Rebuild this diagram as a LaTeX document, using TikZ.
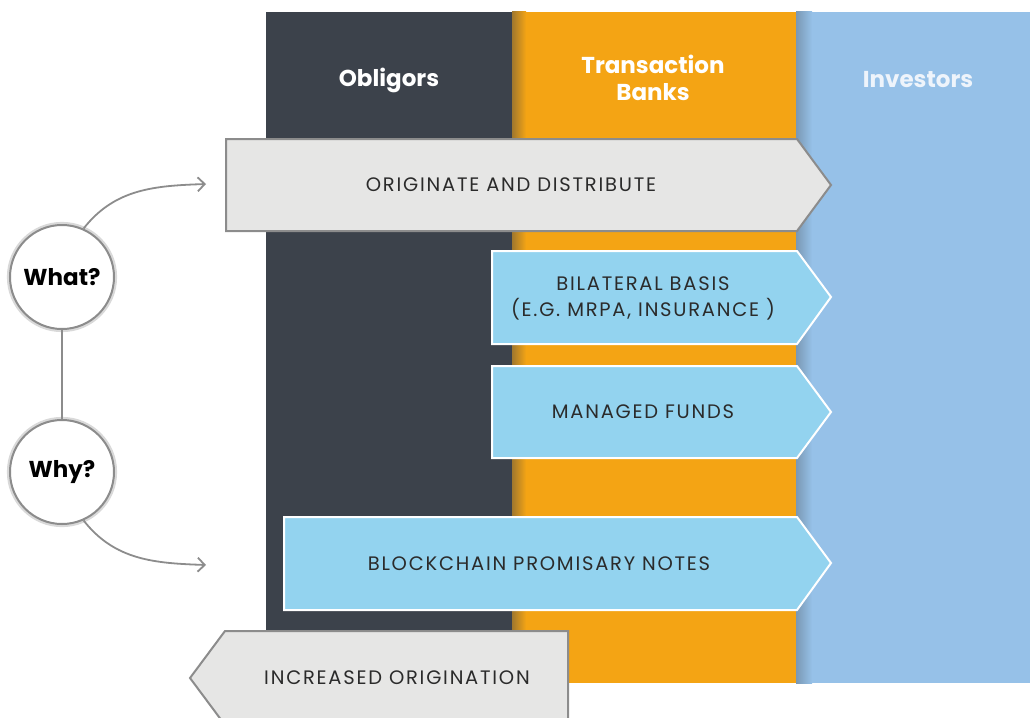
\documentclass[tikz,border=0pt]{standalone}
\usepackage{fontspec}
\setmainfont{Poppins}
\newfontfamily\labfont[LetterSpace=9]{Poppins}
\usetikzlibrary{arrows.meta,shadows}
\definecolor{obl}{HTML}{3C424B}
\definecolor{ora}{HTML}{F4A414}
\definecolor{orashadow}{HTML}{A0782E}
\definecolor{inv}{HTML}{96C1E8}
\definecolor{invshadow}{HTML}{7A98B4}
\definecolor{invtext}{HTML}{EEF4FB}
\definecolor{boxgray}{HTML}{E6E6E5}
\definecolor{edgegray}{HTML}{8C8C8C}
\definecolor{boxblue}{HTML}{93D3EF}
\definecolor{labtext}{HTML}{2B2B2B}
\begin{document}
\begin{tikzpicture}[x=1pt,y=-1pt,
  head/.style={text=white,font=\fontsize{23}{27}\selectfont\bfseries,align=center},
  graybox/.style={fill=boxgray,draw=edgegray,line width=2pt},
  bluebox/.style={fill=boxblue,draw=white,line width=2pt},
  lab/.style={text=labtext,font=\labfont\fontsize{19.5}{26}\selectfont,align=center},
  circ/.style={circle,draw=edgegray,line width=2pt,fill=white,minimum size=104pt,inner sep=0pt,
    font=\fontsize{23}{26}\selectfont\bfseries,text=black,
    drop shadow={opacity=0.3,shadow xshift=0pt,shadow yshift=0pt,shadow scale=1.06}},
  conn/.style={draw=edgegray,line width=1.8pt},
  tip/.style={-{Straight Barb[length=7pt,width=14pt,line width=1.8pt]}}]
\useasboundingbox (0,0) rectangle (1030,717);
\clip (0,0) rectangle (1030,717);
% columns
\fill[obl] (266,12) rectangle (512,632);
\fill[ora] (512,12) rectangle (796,683);
\shade[left color=orashadow,right color=ora] (512,12) rectangle (526,683);
\fill[inv] (796,12) rectangle (1030,683);
\shade[left color=invshadow,right color=inv] (796,12) rectangle (812,683);
% headers
\node[head] (hobl) at (389,80) {Obligors};
\node[head] (hban) at (653,78) {Transaction\\Banks};
\node[head,text=invtext] (hinv) at (918,80) {Investors};
% arrow boxes
\draw[graybox] (226,139) -- (797,139) -- (831,185) -- (797,231) -- (226,231) -- cycle;
\node[lab] (orig) at (511,185) {ORIGINATE AND DISTRIBUTE};
\draw[bluebox] (492,251) -- (797,251) -- (831,297) -- (797,344) -- (492,344) -- cycle;
\node[lab] (bil) at (643,298) {BILATERAL BASIS\\(E.G. MRPA, INSURANCE )};
\draw[bluebox] (492,366) -- (797,366) -- (831,412) -- (797,458) -- (492,458) -- cycle;
\node[lab] (man) at (643,412) {MANAGED FUNDS};
\draw[bluebox] (284,517) -- (797,517) -- (831,563) -- (797,610) -- (284,610) -- cycle;
\node[lab] (blk) at (539,564) {BLOCKCHAIN PROMISARY NOTES};
\draw[graybox] (568,631) -- (225,631) -- (190,678) -- (225,725) -- (568,725) -- cycle;
\node[lab] (inc) at (397,678) {INCREASED ORIGINATION};
% circles
\node[circ] (what) at (62,277) {What?};
\node[circ] (why) at (62,472) {Why?};
\draw[conn] (what) -- (why);
\coordinate (e1) at (206,184);
\coordinate (e2) at (206,565);
\draw[conn,tip] (what.66) to[out=52,in=182] (e1);
\draw[conn,tip] (why.-66) to[out=-52,in=178] (e2);
\end{tikzpicture}
\end{document}
